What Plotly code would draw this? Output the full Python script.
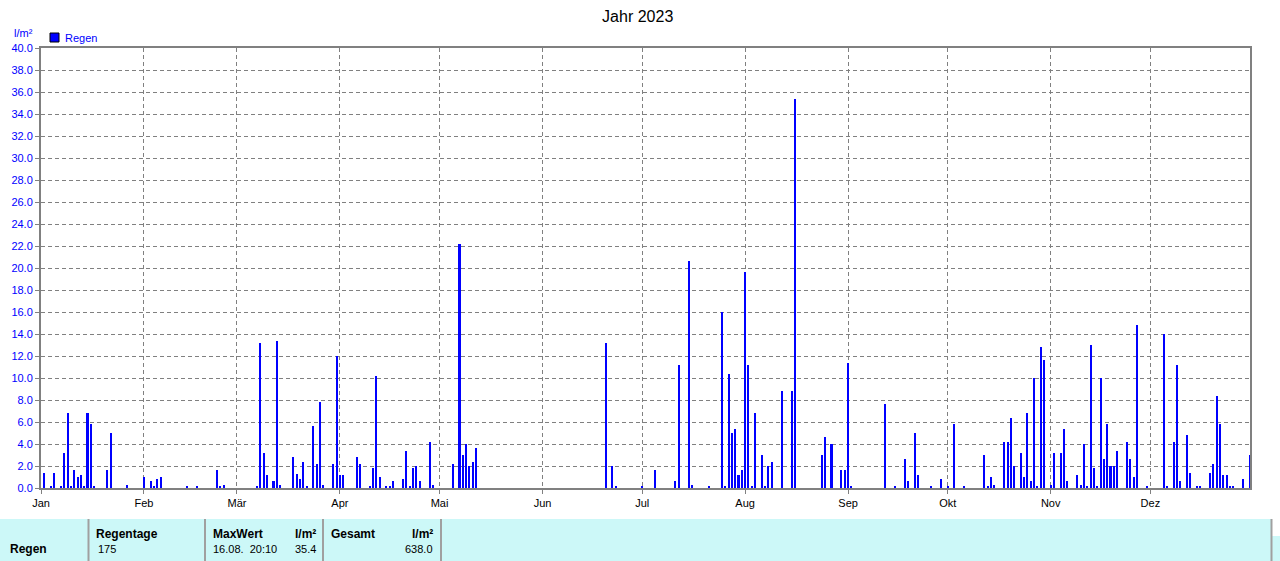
import pandas as pd
import plotly.graph_objects as go

# ---------------- data ----------------
rain_dates = [
    "01-02", "01-04", "01-05", "01-07", "01-08", "01-09", "01-10", "01-11", "01-12", "01-13",
    "01-14", "01-15", "01-16", "01-17", "01-21", "01-22", "01-27", "02-01", "02-03", "02-04",
    "02-05", "02-06", "02-14", "02-17", "02-23", "02-24", "02-25",
    "03-07", "03-08", "03-09", "03-10", "03-12", "03-13", "03-14", "03-18", "03-19", "03-20",
    "03-21", "03-22", "03-24", "03-25", "03-26", "03-27", "03-30", "03-31", "04-01", "04-02",
    "04-06", "04-07", "04-10", "04-11", "04-12", "04-13", "04-15", "04-16", "04-17", "04-20",
    "04-21", "04-22", "04-23", "04-24", "04-25", "04-28", "04-29",
    "05-05", "05-07", "05-08", "05-09", "05-10", "05-11", "05-12", "06-20", "06-22", "06-23",
    "07-01", "07-05", "07-11", "07-12", "07-15", "07-16", "07-21", "07-25", "07-26", "07-27",
    "07-28", "07-29", "07-30", "07-31", "08-01", "08-02", "08-03", "08-04", "08-06", "08-07",
    "08-08", "08-09", "08-12", "08-15", "08-16",
    "08-24", "08-25", "08-27", "08-30", "08-31", "09-01", "09-02", "09-12", "09-15", "09-18",
    "09-19", "09-21", "09-22", "09-26", "09-29",
    "10-01", "10-03", "10-06", "10-12", "10-13", "10-14", "10-15", "10-18", "10-19", "10-20",
    "10-21", "10-23", "10-24", "10-25", "10-26", "10-27", "10-28", "10-29", "10-30",
    "11-01", "11-02", "11-04", "11-05", "11-06", "11-09", "11-10", "11-11", "11-12", "11-13",
    "11-14", "11-15", "11-16", "11-17", "11-18", "11-19", "11-20", "11-21", "11-24", "11-25",
    "11-26", "11-27",
    "11-30", "12-05", "12-06", "12-08", "12-09", "12-10", "12-12", "12-13", "12-15", "12-16",
    "12-19", "12-20", "12-21", "12-22", "12-23", "12-24", "12-25", "12-26", "12-29", "12-31",
]
rain_mm = [
    1.4, 0.2, 1.4, 0.2, 3.2, 6.8, 0.2, 1.6, 1.0, 1.2,
    0.2, 6.8, 5.8, 0.2, 1.6, 5.0, 0.3, 1.0, 0.6, 0.2,
    0.8, 1.0, 0.2, 0.2, 1.6, 0.2, 0.3,
    0.2, 13.2, 3.2, 1.2, 0.6, 13.4, 0.3, 2.8, 1.3, 0.8,
    2.4, 0.2, 5.6, 2.2, 7.8, 0.3, 2.2, 12.0, 1.2, 1.2,
    2.8, 2.2, 0.2, 1.8, 10.2, 1.0, 0.2, 0.2, 0.6, 0.8,
    3.4, 0.2, 1.8, 2.0, 0.6, 4.2, 0.3,
    2.2, 22.2, 3.0, 4.0, 2.0, 2.4, 3.6, 13.2, 2.0, 0.2,
    0.2, 1.6, 0.6, 11.2, 20.6, 0.3, 0.2, 16.0, 0.2, 10.4,
    5.0, 5.4, 1.2, 1.6, 19.6, 11.2, 0.2, 6.8, 3.0, 0.2,
    2.0, 2.4, 8.8, 8.8, 35.4,
    3.0, 4.6, 4.0, 1.6, 1.6, 11.4, 0.2, 7.6, 0.2, 2.6,
    0.6, 5.0, 1.2, 0.2, 0.8,
    0.2, 5.8, 0.2, 3.0, 0.2, 1.0, 0.3, 4.2, 4.2, 6.4,
    2.0, 3.2, 1.0, 6.8, 0.6, 10.0, 0.2, 12.8, 11.6,
    0.3, 3.2, 3.2, 5.4, 0.6, 1.2, 0.3, 4.0, 0.2, 13.0,
    1.8, 0.2, 10.0, 2.6, 5.8, 2.0, 2.0, 3.4, 4.2, 2.6,
    1.0, 14.8,
    0.2, 14.0, 0.2, 4.2, 11.2, 0.6, 4.8, 1.4, 0.2, 0.2,
    1.4, 2.2, 8.4, 5.8, 1.2, 1.2, 0.2, 0.2, 0.8, 3.0,
]
month_starts = ["01-01", "02-01", "03-01", "04-01", "05-01", "06-01",
                "07-01", "08-01", "09-01", "10-01", "11-01", "12-01"]
month_labels = ["Jan", "Feb", "Mär", "Apr", "Mai", "Jun",
                "Jul", "Aug", "Sep", "Okt", "Nov", "Dez"]
y_ticks = [i * 2.0 for i in range(21)]

table_headers = ["Regentage", "MaxWert", "l/m²", "Gesamt", "l/m²"]
table_values = ["175", "16.08.  20:10", "35.4", "638.0"]

# ---------------- helpers ----------------
year_start = pd.Timestamp("2023-01-01")


def day_index(mmdd):
    return (pd.Timestamp("2023-" + mmdd) - year_start).days


x_days = [day_index(d) for d in rain_dates]
tick_days = [day_index(d) for d in month_starts]

W, H = 1280, 561
L, R, T, B = 41, 1250, 48, 488
FONT = "Liberation Sans, Arial, sans-serif"


def px(xp):
    return (xp - L) / (R - L)


def py(yp):
    return (B - yp) / (B - T)


fig = go.Figure()
fig.add_trace(go.Bar(
    x=x_days, y=rain_mm, name="Regen",
    marker=dict(color="#0000FF", line=dict(width=0)),
    width=0.62, showlegend=False,
))

grid_dash = "4px,3px"
fig.update_layout(
    width=W, height=H,
    margin=dict(l=L, r=W - R, t=T, b=H - B, pad=0),
    paper_bgcolor="white", plot_bgcolor="white",
    font=dict(family=FONT, size=11, color="black"),
    title=dict(text="Jahr 2023", x=637.7 / W, xref="container", xanchor="center",
               y=1 - 16 / H, yref="container", yanchor="middle",
               font=dict(size=16, color="black", family=FONT)),
    bargap=0,
    xaxis=dict(
        range=[0, 364], tickmode="array", tickvals=tick_days, ticktext=month_labels,
        showgrid=True, gridcolor="#808080", griddash=grid_dash, gridwidth=1,
        showline=True, mirror=True, linecolor="#808080", linewidth=2,
        ticks="outside", ticklen=4, tickcolor="#808080",
        tickfont=dict(size=11, color="black"), zeroline=False, fixedrange=True,
    ),
    yaxis=dict(
        range=[0, 40], tickmode="array", tickvals=y_ticks,
        ticktext=[f"{v:.1f}" for v in y_ticks],
        showgrid=True, gridcolor="#808080", griddash=grid_dash, gridwidth=1,
        showline=True, mirror=True, linecolor="#808080", linewidth=2,
        ticks="outside", ticklen=4, tickcolor="#808080",
        tickfont=dict(size=11, color="#0000FF"), zeroline=False, fixedrange=True,
    ),
)

shapes = []
annotations = []

# unit label and legend
annotations.append(dict(text="l/m²", x=px(12), y=py(33), xref="paper", yref="paper",
                        xanchor="left", yanchor="middle", showarrow=False,
                        font=dict(size=11, color="#0000FF")))
shapes.append(dict(type="rect", xref="paper", yref="paper",
                   x0=px(50), x1=px(59), y0=py(42), y1=py(33),
                   fillcolor="#0000FF", line=dict(color="black", width=1)))
annotations.append(dict(text="Regen", x=px(63), y=py(38), xref="paper", yref="paper",
                        xanchor="left", yanchor="middle", showarrow=False,
                        font=dict(size=11, color="#0000FF")))

# bottom table
cyan = "#CCF8F8"
shapes.append(dict(type="rect", xref="paper", yref="paper", layer="below",
                   x0=px(0), x1=px(1271), y0=py(561), y1=py(519),
                   fillcolor=cyan, line=dict(width=0)))
shapes.append(dict(type="rect", xref="paper", yref="paper", layer="below",
                   x0=px(1272), x1=px(1280), y0=py(561), y1=py(536),
                   fillcolor=cyan, line=dict(width=0)))
for sx in [88.5, 205, 323, 441, 1271.5]:
    shapes.append(dict(type="line", xref="paper", yref="paper",
                       x0=px(sx), x1=px(sx), y0=py(519), y1=py(561),
                       line=dict(color="#A0A0A0", width=2)))


def tx(text, x, y, anchor="left", bold=False):
    annotations.append(dict(
        text=f"<b>{text}</b>" if bold else text, x=px(x), y=py(y),
        xref="paper", yref="paper", xanchor=anchor, yanchor="middle",
        showarrow=False, font=dict(size=12 if bold else 11, color="black"),
    ))


tx("Regen", 8, 549, bold=True)
tx(table_headers[0], 94, 534, bold=True)
tx(table_values[0], 96, 549)
tx(table_headers[1], 211, 534, bold=True)
tx(table_headers[2], 318, 534, anchor="right", bold=True)
tx(table_values[1], 211, 549)
tx(table_values[2], 318, 549, anchor="right")
tx(table_headers[3], 329, 534, bold=True)
tx(table_headers[4], 435, 534, anchor="right", bold=True)
tx(table_values[3], 435, 549, anchor="right")

fig.update_layout(shapes=shapes, annotations=annotations)
fig.write_html(
    "out.html",
    config={"displayModeBar": False},
    post_script="document.body.style.margin='0';document.body.style.padding='0';"
                "document.body.style.overflow='hidden';",
)
